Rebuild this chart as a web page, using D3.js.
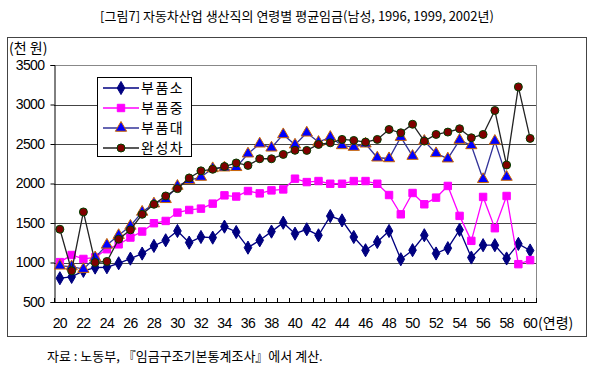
<!DOCTYPE html>
<html>
<head>
<meta charset="utf-8">
<script src="https://cdn.jsdelivr.net/npm/d3@7"></script>
<style>
  body { margin: 0; background: #fff; }
  text { font-family: "Noto Sans CJK KR", "Liberation Sans", sans-serif; fill: #000; }
</style>
</head>
<body>
<div id="chart"></div>
<script>
const width = 595;
const height = 375;

// ages 20..60
const ages = d3.range(20, 61);
const tickAges = d3.range(20, 61, 2);
const yTicks = [500, 1000, 1500, 2000, 2500, 3000, 3500];

const seriesNames = ["부품소", "부품중", "부품대", "완성차"];

const smallParts = [801, 818, 894, 936, 940, 990, 1049, 1113, 1210, 1281,
    1399, 1252, 1323, 1315, 1454, 1386, 1188, 1281, 1391, 1504,
    1365, 1420, 1344, 1588, 1533, 1323, 1155, 1260, 1399, 1041,
    1156, 1345, 1114, 1181, 1413, 1063, 1219, 1219, 1051, 1236, 1152];

const midParts = [1005, 1095, 1045, 1065, 1168, 1230, 1316, 1392, 1497, 1526,
    1632, 1665, 1682, 1745, 1850, 1835, 1905, 1875, 1913, 1925,
    2061, 2018, 2031, 1997, 1997, 2031, 2031, 1997, 1854, 1610,
    1880, 1737, 1821, 1969, 1590, 1274, 1830, 1434, 1842, 979, 1030];

// no values for 59, 60
const bigParts = [958, 949, 916, 1063, 1223, 1345, 1463, 1640, 1745, 1800,
    1968, 2040, 2082, 2191, 2200, 2205, 2377, 2503, 2452, 2621,
    2490, 2642, 2524, 2587, 2482, 2461, 2503, 2326, 2317, 2587,
    2347, 2537, 2381, 2314, 2550, 2482, 2053, 2537, 2082];

const carMakers = [1421, 895, 1640, 1000, 1013, 1295, 1413, 1610, 1737, 1842,
    1935, 2070, 2160, 2180, 2215, 2260, 2229, 2313, 2313, 2368,
    2420, 2419, 2494, 2515, 2558, 2545, 2524, 2558, 2684, 2642,
    2750, 2537, 2621, 2651, 2693, 2579, 2621, 2924, 2234, 3223, 2571];

const plot = { left: 54, right: 536, top: 65, bottom: 302 };

const svg = d3.select("#chart")
    .append("svg")
    .attr("width", width)
    .attr("height", height);

// title
svg.append("text")
    .attr("x", 297)
    .attr("y", 21)
    .attr("text-anchor", "middle")
    .style("font-size", "13px")
    .text("[그림7] 자동차산업 생산직의 연령별 평균임금(남성, 1996, 1999, 2002년)");

// outer frame
svg.append("rect")
    .attr("x", 7.5).attr("y", 37.5)
    .attr("width", 579).attr("height", 299)
    .attr("fill", "none")
    .attr("stroke", "#444");

svg.append("text")
    .attr("x", 9)
    .attr("y", 53)
    .style("font-size", "14px")
    .text("(천 원)");

const x = d3.scaleBand()
    .domain(ages)
    .range([plot.left, plot.right]);

const y = d3.scaleLinear()
    .domain([500, 3500])
    .range([plot.bottom, plot.top]);

const cx = (a) => x(a) + x.bandwidth() / 2;

// gridlines
svg.append("g")
    .selectAll("line")
    .data(yTicks.slice(1))
    .join("line")
    .attr("x1", plot.left).attr("x2", plot.right)
    .attr("y1", (d) => Math.round(y(d)) + 0.5)
    .attr("y2", (d) => Math.round(y(d)) + 0.5)
    .attr("stroke", (d) => d === 3500 ? "#888" : "#444");

// right border
svg.append("line")
    .attr("x1", plot.right + 0.5).attr("x2", plot.right + 0.5)
    .attr("y1", plot.top).attr("y2", plot.bottom)
    .attr("stroke", "#888");

// y axis
const yAxis = svg.append("g")
    .attr("transform", `translate(${plot.left + 0.5},0)`)
    .call(d3.axisLeft(y).tickValues(yTicks).tickSize(4).tickPadding(6).tickFormat(d3.format("d")));
yAxis.selectAll("text")
    .style("font-size", "14px")
    .style("font-family", "Liberation Sans, sans-serif")
    .attr("letter-spacing", "-0.6");
yAxis.selectAll("line").attr("stroke", "#000");
yAxis.select(".domain").attr("stroke", "#000");

// x axis: ticks between categories, pointing up
const bounds = d3.range(0, ages.length + 1).map((i) => plot.left + i * x.step());
svg.append("line")
    .attr("x1", plot.left).attr("x2", plot.right + 1)
    .attr("y1", plot.bottom + 0.5).attr("y2", plot.bottom + 0.5)
    .attr("stroke", "#000");
svg.append("g")
    .selectAll("line")
    .data(bounds)
    .join("line")
    .attr("x1", (d) => Math.round(d) + 0.5).attr("x2", (d) => Math.round(d) + 0.5)
    .attr("y1", plot.bottom - 4).attr("y2", plot.bottom)
    .attr("stroke", "#000");

svg.append("g")
    .selectAll("text")
    .data(tickAges)
    .join("text")
    .attr("x", (d) => cx(d))
    .attr("y", 328)
    .attr("text-anchor", "middle")
    .style("font-size", "14px")
    .style("font-family", "Liberation Sans, sans-serif")
    .attr("letter-spacing", "-0.6")
    .text((d) => d);

svg.append("text")
    .attr("x", cx(60) + 8)
    .attr("y", 328)
    .style("font-size", "14px")
    .text("(연령)");

// series
const series = [
    { name: seriesNames[0], values: smallParts, line: "#000080", shape: d3.symbolDiamond, size: 50, fill: "#000080", stroke: "#000080" },
    { name: seriesNames[1], values: midParts, line: "#ff00ff", shape: d3.symbolSquare, size: 55, fill: "#ff00ff", stroke: "#ff00ff" },
    { name: seriesNames[2], values: bigParts, line: "#333399", shape: d3.symbolTriangle, size: 55, fill: "#0000ff", stroke: "#cc6600" },
    { name: seriesNames[3], values: carMakers, line: "#222222", shape: d3.symbolCircle, size: 50, fill: "#800000", stroke: "#004000" }
];

const line = d3.line()
    .x((d) => cx(d.age))
    .y((d) => y(d.v));

series.forEach((s) => {
    const pts = s.values.map((v, i) => ({ age: ages[i], v: v }));
    const g = svg.append("g");
    g.append("path")
        .datum(pts)
        .attr("d", line)
        .attr("fill", "none")
        .attr("stroke", s.line)
        .attr("stroke-width", 1.3);
    g.selectAll("path.m")
        .data(pts)
        .join("path")
        .attr("class", "m")
        .attr("transform", (d) => `translate(${cx(d.age)},${y(d.v)})`)
        .attr("d", d3.symbol().type(s.shape).size(s.size))
        .attr("fill", s.fill)
        .attr("stroke", s.stroke)
        .attr("stroke-width", 1);
});

// legend
const legend = svg.append("g");
legend.append("rect")
    .attr("x", 97.5).attr("y", 77.5)
    .attr("width", 94).attr("height", 79)
    .attr("fill", "#fff")
    .attr("stroke", "#000");

series.forEach((s, i) => {
    const ly = 88 + i * 20;
    legend.append("line")
        .attr("x1", 103).attr("x2", 139)
        .attr("y1", ly).attr("y2", ly)
        .attr("stroke", s.line)
        .attr("stroke-width", 1.3);
    legend.append("path")
        .attr("transform", `translate(121,${ly})`)
        .attr("d", d3.symbol().type(s.shape).size(s.size))
        .attr("fill", s.fill)
        .attr("stroke", s.stroke);
    legend.append("text")
        .attr("x", 141)
        .attr("y", ly + 5)
        .style("font-size", "14px")
        .attr("letter-spacing", "1.5")
        .text(s.name);
});

// source note
svg.append("text")
    .attr("x", 47)
    .attr("y", 361)
    .style("font-size", "13px")
    .text("자료 : 노동부, 『임금구조기본통계조사』에서 계산.");
</script>
</body>
</html>
